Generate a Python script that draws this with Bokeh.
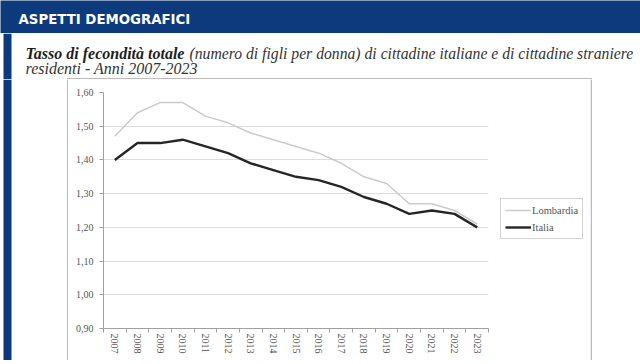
from bokeh.plotting import figure
from bokeh.layouts import column, row
from bokeh.models import (FixedTicker, CustomJSTickFormatter, Label,
                          Legend, LegendItem, Range1d)
from bokeh.embed import file_html
from bokeh.resources import INLINE

# ---- data ----
years = ["2007", "2008", "2009", "2010", "2011", "2012", "2013", "2014", "2015",
         "2016", "2017", "2018", "2019", "2020", "2021", "2022", "2023"]
lombardia = [1.47, 1.54, 1.57, 1.57, 1.53, 1.51, 1.48, 1.46, 1.44,
             1.42, 1.39, 1.35, 1.33, 1.27, 1.27, 1.25, 1.21]
italia = [1.40, 1.45, 1.45, 1.46, 1.44, 1.42, 1.39, 1.37, 1.35,
          1.34, 1.32, 1.29, 1.27, 1.24, 1.25, 1.24, 1.20]
y_ticks = [0.90, 1.00, 1.10, 1.20, 1.30, 1.40, 1.50, 1.60]
series_names = ["Lombardia", "Italia"]
series_colors = ["#cbcbcb", "#262626"]
series_widths = [1.5, 2.4]
header_text = "ASPETTI DEMOGRAFICI"
title_bold = "Tasso di fecondità totale"
title_rest = "(numero di figli per donna) di cittadine italiane e di cittadine straniere"
title_line2 = "residenti - Anni 2007-2023"

BLUE = "#0c3a7d"
BOXC = "#bcbcbc"
W = 640
H_HEAD, H_TITLE, H_BOX, H_BOTTOM = 33, 46, 281, 4
W_LEFT, W_CHART, W_LEG = 68, 422, 100
W_RIGHT = W - W_LEFT - W_CHART - W_LEG


def blank(width, height, xr=None, yr=None):
    f = figure(width=width, height=height, output_backend="svg", toolbar_location=None,
               x_range=xr or Range1d(0, width), y_range=yr or Range1d(height, 0),
               x_axis_location=None, y_axis_location=None, min_border=0,
               frame_align=False)
    f.outline_line_color = None
    f.grid.visible = False
    f.border_fill_color = "white"
    f.background_fill_color = "white"
    return f


def stripe(f, height):
    f.quad(left=[3], right=[11], top=[0], bottom=[height], fill_color=BLUE, line_color=None)


# ---- header band ----
head = blank(W, H_HEAD)
head.background_fill_color = BLUE
head.border_fill_color = BLUE
head.add_layout(Label(x=18, y=17.5, text=header_text, text_color="white",
                      text_font="DejaVu Sans Condensed, sans-serif",
                      text_font_style="bold", text_font_size="14.8px",
                      text_baseline="middle"))

# ---- title block ----
tit = blank(W, H_TITLE)
stripe(tit, H_TITLE)
tit.quad(left=[W_LEFT - 1.5], right=[W_LEFT + W_CHART + W_LEG + 1.5], top=[H_TITLE - 1.5],
         bottom=[H_TITLE], fill_color=BOXC, line_color=None)
tit.add_layout(Label(x=25, y=20, text=title_bold, text_color="#1e1e1e",
                     text_font="Liberation Serif", text_font_style="bold italic",
                     text_font_size="16px", text_baseline="alphabetic"))
tit.add_layout(Label(x=189, y=20, text=title_rest, text_color="#333333",
                     text_font="Liberation Serif", text_font_style="italic",
                     text_font_size="15.7px", text_baseline="alphabetic"))
tit.add_layout(Label(x=25, y=35, text=title_line2, text_color="#333333",
                     text_font="Liberation Serif", text_font_style="italic",
                     text_font_size="16px", text_baseline="alphabetic"))

# ---- side pads (carry the chart box edges) ----
left = blank(W_LEFT, H_BOX)
stripe(left, H_BOX)
left.quad(left=[W_LEFT - 1.5], right=[W_LEFT], top=[0], bottom=[H_BOX],
          fill_color=BOXC, line_color=None)
right = blank(W_RIGHT, H_BOX)
right.quad(left=[0], right=[1.5], top=[0], bottom=[H_BOX], fill_color=BOXC, line_color=None)
bottom = blank(W, H_BOTTOM)
stripe(bottom, H_BOTTOM)
bottom.quad(left=[W_LEFT - 1.5], right=[W_LEFT + W_CHART + W_LEG + 1.5], top=[0],
            bottom=[1.5], fill_color=BOXC, line_color=None)

# ---- chart ----
FL, FR, FT, FB = 35, 420, 13, 249
p = figure(width=W_CHART, height=H_BOX, output_backend="svg", toolbar_location=None,
           x_range=Range1d(-0.5, len(years) - 0.5), y_range=Range1d(0.90, 1.60),
           min_border_left=FL, min_border_right=W_CHART - FR,
           min_border_top=FT, min_border_bottom=H_BOX - FB, frame_align=False)
p.outline_line_color = None
p.background_fill_color = "white"
p.border_fill_color = "white"

x = list(range(len(years)))
p.line(x, lombardia, line_color=series_colors[0], line_width=series_widths[0])
p.line(x, italia, line_color=series_colors[1], line_width=series_widths[1])

p.xgrid.visible = False
p.ygrid.ticker = FixedTicker(ticks=y_ticks)
p.ygrid.grid_line_color = "#dcdcdc"
p.ygrid.grid_line_width = 1

ya = p.yaxis[0]
ya.ticker = FixedTicker(ticks=y_ticks)
ya.formatter = CustomJSTickFormatter(code="return tick.toFixed(2).replace('.', ',');")
ya.major_label_text_font = "Liberation Serif"
ya.major_label_text_font_size = "10px"
ya.major_label_text_color = "#555555"
ya.axis_line_color = "#a0a0a0"
ya.major_tick_line_color = "#a0a0a0"
ya.major_tick_out = 4
ya.major_tick_in = 0
ya.minor_tick_line_color = None
ya.major_label_standoff = 6

xa = p.xaxis[0]
xa.ticker = FixedTicker(ticks=x, minor_ticks=[i - 0.5 for i in range(len(years) + 1)])
xa.formatter = CustomJSTickFormatter(args=dict(labels=years),
                                     code="return labels[Math.round(tick)] || '';")
xa.major_label_orientation = "vertical"
xa.major_label_text_font = "Liberation Serif"
xa.major_label_text_font_size = "10px"
xa.major_label_text_color = "#555555"
xa.axis_line_color = "#a0a0a0"
xa.major_tick_line_color = None
xa.major_tick_out = 0
xa.major_tick_in = 0
xa.minor_tick_line_color = "#a0a0a0"
xa.minor_tick_out = 4
xa.minor_tick_in = 0
xa.major_label_standoff = 1

# ---- legend panel (inside the chart box, right of the plot) ----
leg = blank(W_LEG, H_BOX, xr=Range1d(-200, -100), yr=Range1d(-200, -100))
lr1 = leg.line(x, lombardia, line_color=series_colors[0], line_width=series_widths[0])
lr2 = leg.line(x, italia, line_color=series_colors[1], line_width=series_widths[1])
legend = Legend(items=[LegendItem(label=series_names[0], renderers=[lr1]),
                       LegendItem(label=series_names[1], renderers=[lr2])],
                location=(10, 121))
legend.border_line_color = "#a8a8a8"
legend.border_line_width = 1
legend.label_text_font = "Liberation Serif"
legend.label_text_font_size = "10.5px"
legend.label_text_color = "#555555"
legend.padding = 4
legend.spacing = 3
legend.margin = 0
legend.glyph_width = 26
legend.glyph_height = 14
legend.label_height = 14
legend.label_standoff = 1
legend.background_fill_alpha = 1
leg.add_layout(legend, "center")

layout = column(head, tit, row(left, p, leg, right), bottom)
open("out.html", "w").write(file_html(layout, INLINE))
